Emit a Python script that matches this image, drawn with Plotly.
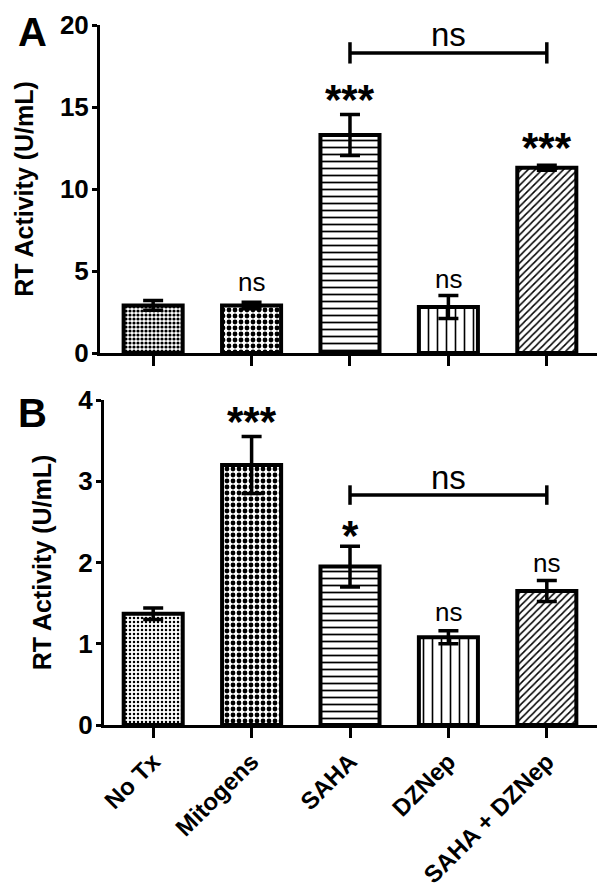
import plotly.graph_objects as go

categories = ["No Tx", "Mitogens", "SAHA", "DZNep", "SAHA + DZNep"]

a_values = [2.9, 2.9, 13.3, 2.8, 11.3]
a_errors = [0.3, 0.2, 1.25, 0.7, 0.15]
a_labels = ["", "ns", "***", "ns", "***"]
a_label_y = [None, 4.33, 15.7, 4.5, 12.8]

b_values = [1.37, 3.2, 1.95, 1.08, 1.65]
b_errors = [0.07, 0.35, 0.25, 0.08, 0.13]
b_labels = ["", "***", "*", "ns", "ns"]
b_label_y = [None, 3.78, 2.38, 1.39, 1.99]

a_bracket = {"x0": 2, "x1": 4, "y": 18.3, "cap": 0.65, "label_y": 19.4, "text": "ns"}
b_bracket = {"x0": 2, "x1": 4, "y": 2.83, "cap": 0.12, "label_y": 3.05, "text": "ns"}

a_patterns = [
    dict(shape=".", size=4, solidity=0.5),
    dict(shape=".", size=6, solidity=0.5),
    dict(shape="-", size=7, solidity=0.25),
    dict(shape="|", size=9, solidity=0.18),
    dict(shape="/", size=5, solidity=0.3),
]
b_patterns = [
    dict(shape=".", size=4, solidity=0.3),
    dict(shape=".", size=6, solidity=0.5),
    dict(shape="-", size=7, solidity=0.25),
    dict(shape="|", size=9, solidity=0.18),
    dict(shape="/", size=5, solidity=0.3),
]

FONT = "Liberation Sans, Arial, sans-serif"
W, H = 607, 892
OFF = 8  # page body margin


def px_x(p):
    return (p - OFF) / W


def px_y(p):
    return 1 - (p - OFF) / H


fig = go.Figure()


def add_bars(values, errors, patterns, xa, ya):
    for cat, v, e, p in zip(categories, values, errors, patterns):
        fig.add_trace(go.Bar(
            x=[cat], y=[v], xaxis=xa, yaxis=ya, width=0.6,
            marker=dict(color="white", line=dict(color="black", width=4),
                        pattern=dict(fgcolor="black", bgcolor="white", fillmode="replace", **p)),
            error_y=dict(type="data", array=[e], visible=True, color="black", thickness=3.5, width=10),
            showlegend=False, hoverinfo="skip",
        ))


add_bars(a_values, a_errors, a_patterns, "x", "y")
add_bars(b_values, b_errors, b_patterns, "x2", "y2")


def add_labels(labels, ys, xr, yr):
    for cat, t, yv in zip(categories, labels, ys):
        if not t:
            continue
        star = t.startswith("*")
        fig.add_annotation(
            x=cat, y=yv, xref=xr, yref=yr, text=t, showarrow=False,
            xanchor="center", yanchor="middle", yshift=-4 if star else 0,
            font=dict(family=FONT, size=42 if star else 26, color="black",
                      weight="bold" if star else "normal"),
        )


add_labels(a_labels, a_label_y, "x", "y")
add_labels(b_labels, b_label_y, "x2", "y2")


def add_bracket(br, xr, yr):
    line = dict(color="black", width=3.5)
    fig.add_shape(type="line", xref=xr, yref=yr, x0=br["x0"], x1=br["x1"], y0=br["y"], y1=br["y"], line=line)
    for xx in (br["x0"], br["x1"]):
        fig.add_shape(type="line", xref=xr, yref=yr, x0=xx, x1=xx,
                      y0=br["y"] - br["cap"], y1=br["y"] + br["cap"], line=line)
    fig.add_annotation(x=(br["x0"] + br["x1"]) / 2, y=br["label_y"], xref=xr, yref=yr,
                       text=br["text"], showarrow=False, xanchor="center", yanchor="middle",
                       font=dict(family=FONT, size=33, color="black"))


add_bracket(a_bracket, "x", "y")
add_bracket(b_bracket, "x2", "y2")

fig.add_annotation(x=px_x(33), y=1, xref="paper", yref="paper", text="A",
                   showarrow=False, xanchor="center", yanchor="top",
                   font=dict(family=FONT, size=40, color="black", weight="bold"))
fig.add_annotation(x=px_x(33), y=px_y(413), xref="paper", yref="paper", text="B",
                   showarrow=False, xanchor="center", yanchor="middle",
                   font=dict(family=FONT, size=40, color="black", weight="bold"))

yaxis_common = dict(
    automargin=False,
    showgrid=False, zeroline=False, showline=True, linecolor="black", linewidth=3,
    ticks="outside", ticklen=5, tickwidth=3, tickcolor="black", ticklabelstandoff=-2,
    tickfont=dict(family=FONT, size=26, color="black", weight="bold"),
    title=dict(text="RT Activity (U/mL)", standoff=20,
               font=dict(family=FONT, size=25, color="black", weight="bold")),
)
xaxis_common = dict(
    automargin=False,
    type="category", categoryorder="array", categoryarray=categories,
    showgrid=False, zeroline=False, showline=True, linecolor="black", linewidth=3,
    ticks="outside", ticklen=10, tickwidth=2.5, tickcolor="black",
)

fig.update_layout(
    template="none",
    width=W, height=H, margin=dict(l=0, r=0, t=0, b=0, autoexpand=False),
    paper_bgcolor="white", plot_bgcolor="white", barmode="overlay",
    xaxis=dict(domain=[px_x(100), px_x(597)], range=[-0.54, 4.51], anchor="y",
               showticklabels=False, **xaxis_common),
    yaxis=dict(domain=[px_y(353), px_y(25)], range=[0, 20], tickvals=[0, 5, 10, 15, 20],
               anchor="x", **yaxis_common),
    xaxis2=dict(domain=[px_x(104), px_x(597)], range=[-0.50, 4.51], anchor="y2",
                tickangle=-45, tickfont=dict(family=FONT, size=24, color="black", weight="bold"),
                **xaxis_common),
    yaxis2=dict(domain=[px_y(725), px_y(400)], range=[0, 4], tickvals=[0, 1, 2, 3, 4],
                anchor="x2", **yaxis_common),
)

fig.write_html("out.html")
